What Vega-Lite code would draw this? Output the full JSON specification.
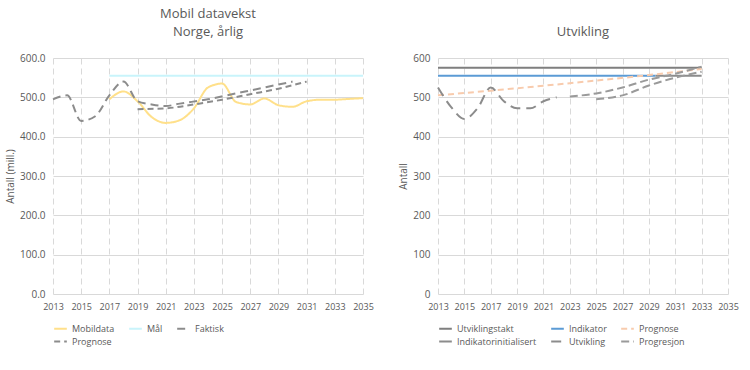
{
  "$schema": "https://vega.github.io/schema/vega-lite/v6.json",
  "background": "white",
  "padding": {"left": 5, "right": 5, "top": 8, "bottom": 3},
  "spacing": 24,
  "config": {
    "font": "Open Sans",
    "view": {"stroke": null},
    "axis": {"labelColor": "#595959", "titleColor": "#595959", "labelFontSize": 10, "titleFontSize": 10, "titleFontWeight": "normal", "domain": false, "ticks": false, "gridColor": "#D9D9D9"},
    "axisX": {"gridDash": [6, 4], "labelAngle": 0, "labelPadding": 8, "labelFontSize": 9, "labelOverlap": false, "labelFlush": false},
    "axisY": {"labelPadding": 8},
    "legend": {"labelColor": "#595959", "labelFontSize": 9, "orient": "bottom", "direction": "horizontal", "columns": 3, "symbolType": "stroke", "symbolStrokeWidth": 2, "symbolSize": 160, "columnPadding": 10, "rowPadding": 0, "offset": 10, "padding": 0, "labelLimit": 120},
    "title": {"color": "#595959", "fontSize": 13, "fontWeight": "normal", "anchor": "middle", "offset": 14, "lineHeight": 18}
  },
  "datasets": {
    "left": [
      {"year": 2017, "value": 495, "series": "Mobildata", "line": "a"},
      {"year": 2018, "value": 515, "series": "Mobildata", "line": "a"},
      {"year": 2019, "value": 490, "series": "Mobildata", "line": "a"},
      {"year": 2020, "value": 450, "series": "Mobildata", "line": "a"},
      {"year": 2021, "value": 435, "series": "Mobildata", "line": "a"},
      {"year": 2022, "value": 442, "series": "Mobildata", "line": "a"},
      {"year": 2023, "value": 472, "series": "Mobildata", "line": "a"},
      {"year": 2024, "value": 525, "series": "Mobildata", "line": "a"},
      {"year": 2025, "value": 535, "series": "Mobildata", "line": "a"},
      {"year": 2026, "value": 488, "series": "Mobildata", "line": "a"},
      {"year": 2027, "value": 482, "series": "Mobildata", "line": "a"},
      {"year": 2028, "value": 497, "series": "Mobildata", "line": "a"},
      {"year": 2029, "value": 480, "series": "Mobildata", "line": "a"},
      {"year": 2030, "value": 476, "series": "Mobildata", "line": "a"},
      {"year": 2031, "value": 490, "series": "Mobildata", "line": "a"},
      {"year": 2032, "value": 494, "series": "Mobildata", "line": "a"},
      {"year": 2033, "value": 494, "series": "Mobildata", "line": "a"},
      {"year": 2034, "value": 496, "series": "Mobildata", "line": "a"},
      {"year": 2035, "value": 498, "series": "Mobildata", "line": "a"},
      {"year": 2017, "value": 555, "series": "Mål", "line": "a"},
      {"year": 2035, "value": 555, "series": "Mål", "line": "a"},
      {"year": 2013, "value": 495, "series": "Faktisk", "line": "a"},
      {"year": 2014, "value": 505, "series": "Faktisk", "line": "a"},
      {"year": 2015, "value": 440, "series": "Faktisk", "line": "a"},
      {"year": 2016, "value": 452, "series": "Faktisk", "line": "a"},
      {"year": 2017, "value": 505, "series": "Faktisk", "line": "a"},
      {"year": 2018, "value": 540, "series": "Faktisk", "line": "a"},
      {"year": 2019, "value": 490, "series": "Faktisk", "line": "a"},
      {"year": 2020, "value": 482, "series": "Faktisk", "line": "a"},
      {"year": 2021, "value": 478, "series": "Faktisk", "line": "a"},
      {"year": 2022, "value": 484, "series": "Faktisk", "line": "a"},
      {"year": 2024, "value": 495, "series": "Faktisk", "line": "a"},
      {"year": 2026, "value": 510, "series": "Faktisk", "line": "a"},
      {"year": 2028, "value": 525, "series": "Faktisk", "line": "a"},
      {"year": 2030, "value": 540, "series": "Faktisk", "line": "a"},
      {"year": 2019, "value": 470, "series": "Prognose", "line": "a"},
      {"year": 2021, "value": 472, "series": "Prognose", "line": "a"},
      {"year": 2023, "value": 482, "series": "Prognose", "line": "a"},
      {"year": 2025, "value": 494, "series": "Prognose", "line": "a"},
      {"year": 2027, "value": 508, "series": "Prognose", "line": "a"},
      {"year": 2029, "value": 522, "series": "Prognose", "line": "a"},
      {"year": 2031, "value": 540, "series": "Prognose", "line": "a"}
    ],
    "right": [
      {"year": 2013, "value": 575, "series": "Utviklingstakt", "line": "a"},
      {"year": 2033, "value": 575, "series": "Utviklingstakt", "line": "a"},
      {"year": 2013, "value": 555, "series": "Indikator", "line": "a"},
      {"year": 2029.5, "value": 555, "series": "Indikator", "line": "a"},
      {"year": 2029.5, "value": 555, "series": "Indikatorinitialisert", "line": "a"},
      {"year": 2033, "value": 555, "series": "Indikatorinitialisert", "line": "a"},
      {"year": 2013, "value": 505, "series": "Prognose", "line": "a"},
      {"year": 2018, "value": 520, "series": "Prognose", "line": "a"},
      {"year": 2023, "value": 536, "series": "Prognose", "line": "a"},
      {"year": 2028, "value": 553, "series": "Prognose", "line": "a"},
      {"year": 2033, "value": 572, "series": "Prognose", "line": "a"},
      {"year": 2013, "value": 525, "series": "Utvikling", "line": "a"},
      {"year": 2014, "value": 475, "series": "Utvikling", "line": "a"},
      {"year": 2015, "value": 445, "series": "Utvikling", "line": "a"},
      {"year": 2016, "value": 472, "series": "Utvikling", "line": "a"},
      {"year": 2017, "value": 525, "series": "Utvikling", "line": "a"},
      {"year": 2018, "value": 490, "series": "Utvikling", "line": "a"},
      {"year": 2019, "value": 472, "series": "Utvikling", "line": "a"},
      {"year": 2020, "value": 472, "series": "Utvikling", "line": "a"},
      {"year": 2021, "value": 490, "series": "Utvikling", "line": "a"},
      {"year": 2022, "value": 500, "series": "Utvikling", "line": "a"},
      {"year": 2023, "value": 502, "series": "Progresjon", "line": "a"},
      {"year": 2025, "value": 510, "series": "Progresjon", "line": "a"},
      {"year": 2027, "value": 525, "series": "Progresjon", "line": "a"},
      {"year": 2029, "value": 545, "series": "Progresjon", "line": "a"},
      {"year": 2031, "value": 560, "series": "Progresjon", "line": "a"},
      {"year": 2033, "value": 578, "series": "Progresjon", "line": "a"},
      {"year": 2025, "value": 495, "series": "Progresjon", "line": "b"},
      {"year": 2027, "value": 505, "series": "Progresjon", "line": "b"},
      {"year": 2029, "value": 530, "series": "Progresjon", "line": "b"},
      {"year": 2031, "value": 550, "series": "Progresjon", "line": "b"},
      {"year": 2033, "value": 565, "series": "Progresjon", "line": "b"}
    ]
  },
  "hconcat": [
    {
      "title": {"text": ["Mobil datavekst", "Norge, årlig"]},
      "width": 310,
      "height": 236,
      "data": {"name": "left"},
      "mark": {"type": "line", "interpolate": "monotone", "strokeWidth": 2},
      "encoding": {
        "x": {"field": "year", "type": "quantitative", "scale": {"domain": [2013, 2035], "nice": false}, "axis": {"title": null, "values": [2013, 2015, 2017, 2019, 2021, 2023, 2025, 2027, 2029, 2031, 2033, 2035], "format": "d"}},
        "y": {"field": "value", "type": "quantitative", "scale": {"domain": [0, 600]}, "axis": {"title": "Antall (mill.)", "tickCount": 6, "format": ".1f"}},
        "detail": {"field": "line", "type": "nominal"},
        "color": {"field": "series", "type": "nominal", "sort": ["Mobildata", "Mål", "Faktisk", "Prognose"], "scale": {"domain": ["Mobildata", "Mål", "Faktisk", "Prognose"], "range": ["#FFE08A", "#C9F4FB", "#8C8C8C", "#8C8C8C"]}, "legend": {"title": null}},
        "strokeDash": {"field": "series", "type": "nominal", "sort": ["Mobildata", "Mål", "Faktisk", "Prognose"], "scale": {"domain": ["Mobildata", "Mål", "Faktisk", "Prognose"], "range": [[1, 0], [1, 0], [8, 5], [6, 4]]}, "legend": {"title": null}}
      }
    },
    {
      "title": {"text": "Utvikling"},
      "width": 290,
      "height": 236,
      "data": {"name": "right"},
      "mark": {"type": "line", "interpolate": "monotone", "strokeWidth": 2},
      "encoding": {
        "x": {"field": "year", "type": "quantitative", "scale": {"domain": [2013, 2035], "nice": false}, "axis": {"title": null, "values": [2013, 2015, 2017, 2019, 2021, 2023, 2025, 2027, 2029, 2031, 2033, 2035], "format": "d"}},
        "y": {"field": "value", "type": "quantitative", "scale": {"domain": [0, 600]}, "axis": {"title": "Antall", "tickCount": 6, "format": "d"}},
        "detail": {"field": "line", "type": "nominal"},
        "color": {"field": "series", "type": "nominal", "sort": ["Utviklingstakt", "Indikator", "Prognose", "Indikatorinitialisert", "Utvikling", "Progresjon"], "scale": {"domain": ["Utviklingstakt", "Indikator", "Prognose", "Indikatorinitialisert", "Utvikling", "Progresjon"], "range": ["#7F7F7F", "#5B9BD5", "#F8CBAD", "#8C8C8C", "#8C8C8C", "#9A9A9A"]}, "legend": {"title": null}},
        "strokeDash": {"field": "series", "type": "nominal", "sort": ["Utviklingstakt", "Indikator", "Prognose", "Indikatorinitialisert", "Utvikling", "Progresjon"], "scale": {"domain": ["Utviklingstakt", "Indikator", "Prognose", "Indikatorinitialisert", "Utvikling", "Progresjon"], "range": [[1, 0], [1, 0], [6, 4], [1, 0], [10, 6], [8, 4]]}, "legend": {"title": null}}
      }
    }
  ],
  "resolve": {"scale": {"color": "independent", "strokeDash": "independent"}, "legend": {"color": "independent", "strokeDash": "independent"}}
}
